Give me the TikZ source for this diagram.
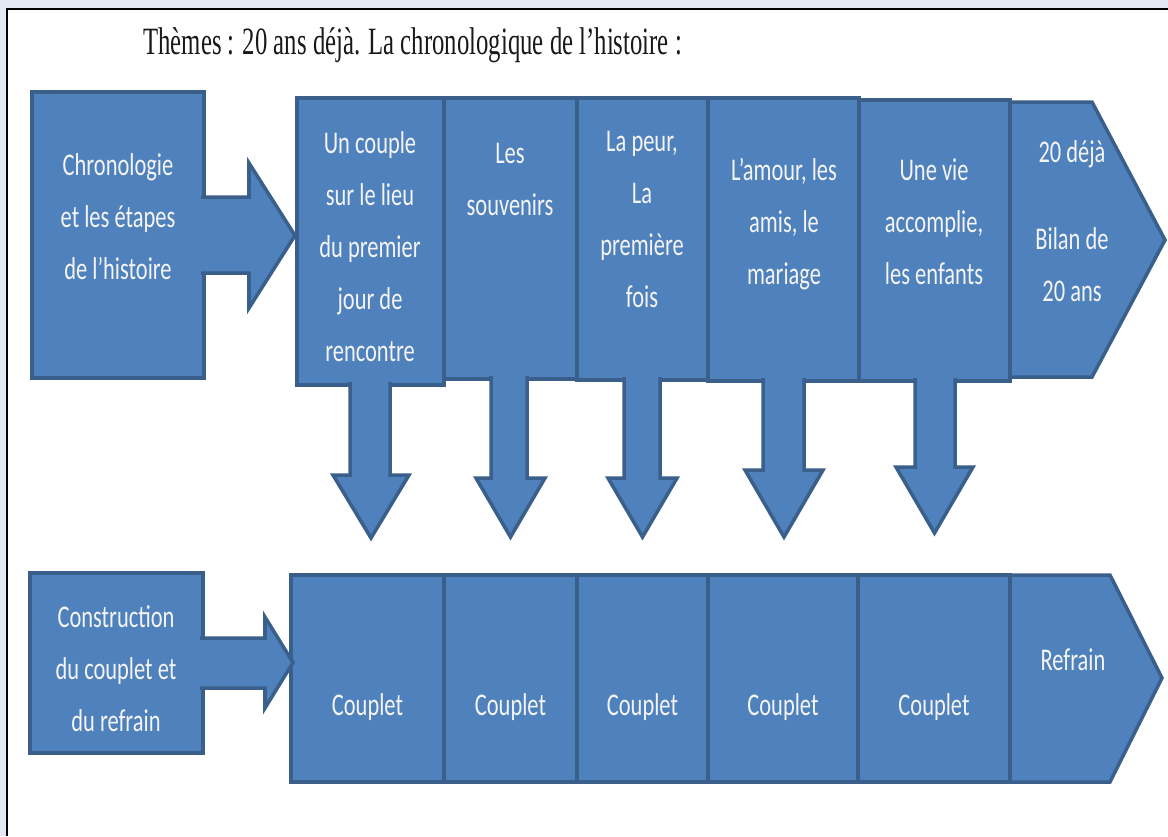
\documentclass[tikz,border=0pt]{standalone}
\usepackage{fontspec}
\usepackage{tikz}
\usetikzlibrary{calc,fit}
\newfontfamily\cellfont[FakeStretch=0.71]{Carlito}
\newfontfamily\titlefont[FakeStretch=0.64]{Liberation Serif}
\definecolor{ofblue}{HTML}{4F81BD}
\definecolor{ofedge}{HTML}{3A5F8B}
\definecolor{paper}{HTML}{E4E8F3}
\definecolor{ink}{HTML}{F4F4F4}
\tikzset{
  cell/.style={rectangle, draw=ofedge, fill=ofblue, line width=2pt, inner sep=0pt, outer sep=0pt},
  slot/.style={rectangle, inner sep=0pt, outer sep=0pt},
  callout/.style={draw=ofedge, fill=ofblue, line width=2pt},
  lbl/.style={font={\cellfont\fontsize{18}{29.6}\selectfont}, text=ink, align=center,
              inner sep=0pt, anchor=north, execute at begin node={\rule{0pt}{14pt}}},
  titletxt/.style={font={\titlefont\fontsize{22}{26}\selectfont}, text=black!90, inner sep=0pt}
}
\begin{document}
\begin{tikzpicture}[x=0.02cm, y=-0.02cm]
  \useasboundingbox (0,0) rectangle (1168,836);
  \clip (0,0) rectangle (1168,836);
  \fill[paper] (0,0) rectangle (1168,836);
  \fill[white] (7,9) rectangle (1168,836);
  \draw[line width=1.1pt] (7,836) -- (7,9) -- (1168,9);
  \node[titletxt, anchor=base west] (title) at (143,54) {Thèmes : 20 ans déjà. La chronologique de l’histoire :};

  \newcommand{\dnarrow}[8]{%
    \coordinate (#8) at ({(#4+#5)/2},#7);
    \filldraw[callout] ($(#2,0 |- #1.south)+(0,-3)$) -- (#2,#6) -- (#4,#6) -- (#8)
      -- (#5,#6) -- (#3,#6) -- ($(#3,0 |- #1.south)+(0,-3)$);}
  \newcommand{\rtarrow}[7]{%
    \filldraw[callout] ($(#1.east |- 0,#2)+(-3,0)$) -- (#6,#2) -- (#6,#4) -- (#7)
      -- (#6,#5) -- (#6,#3) -- ($(#1.east |- 0,#3)+(-3,0)$);}

  \node[cell, fit={(32,92) (204,378)}] (chrono) {};
  \node[cell, fit={(30,573) (203,753)}] (constr) {};
  \foreach \n/\xa/\ya/\xb/\yb in {t1/297/98/444/385, t2/444/98/577/379, t3/577/98/708/380,
      t4/708/98/859/381, t5/859/100/1010/381, b1/291/575/444/782, b2/444/575/577/782,
      b3/577/575/708/782, b4/708/575/858/782, b5/858/575/1010/782}
    \node[cell, fit={(\xa,\ya) (\xb,\yb)}] (\n) {};

  \node[slot, fit={(1010,102) (1092,377)}] (t6) {};
  \coordinate (t6tip) at (1165,240);
  \filldraw[callout] (t6.north west) -- (t6.north east) -- (t6tip) -- (t6.south east) -- (t6.south west) -- cycle;
  \node[slot, fit={(1010,575) (1110,782)}] (b6) {};
  \coordinate (b6tip) at (1162,678);
  \filldraw[callout] (b6.north west) -- (b6.north east) -- (b6tip) -- (b6.south east) -- (b6.south west) -- cycle;

  \coordinate (tipA) at ($(t1.west)+(-2,-6)$);
  \coordinate (tipB) at ($(b1.west)+(2,-16)$);
  \rtarrow{chrono}{197}{273}{163}{308}{249}{tipA}
  \rtarrow{constr}{638}{688}{617}{708}{265}{tipB}

  \dnarrow{t1}{350}{390}{333}{409}{475}{538}{d1}
  \dnarrow{t2}{491}{527}{476}{545}{478}{537}{d2}
  \dnarrow{t3}{624}{660}{608}{677}{478}{537}{d3}
  \dnarrow{t4}{763}{804}{745}{823}{470}{537}{d4}
  \dnarrow{t5}{915}{955}{896}{973}{467}{533}{d5}

  \node[lbl] (chronotxt) at (118,153) {Chronologie\\et les étapes\\de l’histoire};
  \node[lbl] (t1txt) at (370,131) {Un couple\\sur le lieu\\du premier\\jour de\\rencontre};
  \node[lbl] (t2txt) at (510,143) {Les\\souvenirs};
  \node[lbl] (t3txt) at (642,131) {La peur,\\La\\première\\fois};
  \node[lbl] (t4txt) at (784,158) {L’amour, les\\amis, le\\mariage};
  \node[lbl] (t5txt) at (934,158) {Une vie\\accomplie,\\les enfants};
  \node[lbl] (t6txt) at (1072,140) {20 déjà\\[20pt]Bilan de\\20 ans};
  \node[lbl] (constrtxt) at (116,605) {Construction\\du couplet et\\du refrain};
  \foreach \n in {b1,b2,b3,b4,b5}
    \node[lbl] (\n txt) at (\n.center |- 0,691) {Couplet};
  \node[lbl] (b6txt) at (1073,646) {Refrain};
\end{tikzpicture}
\end{document}
